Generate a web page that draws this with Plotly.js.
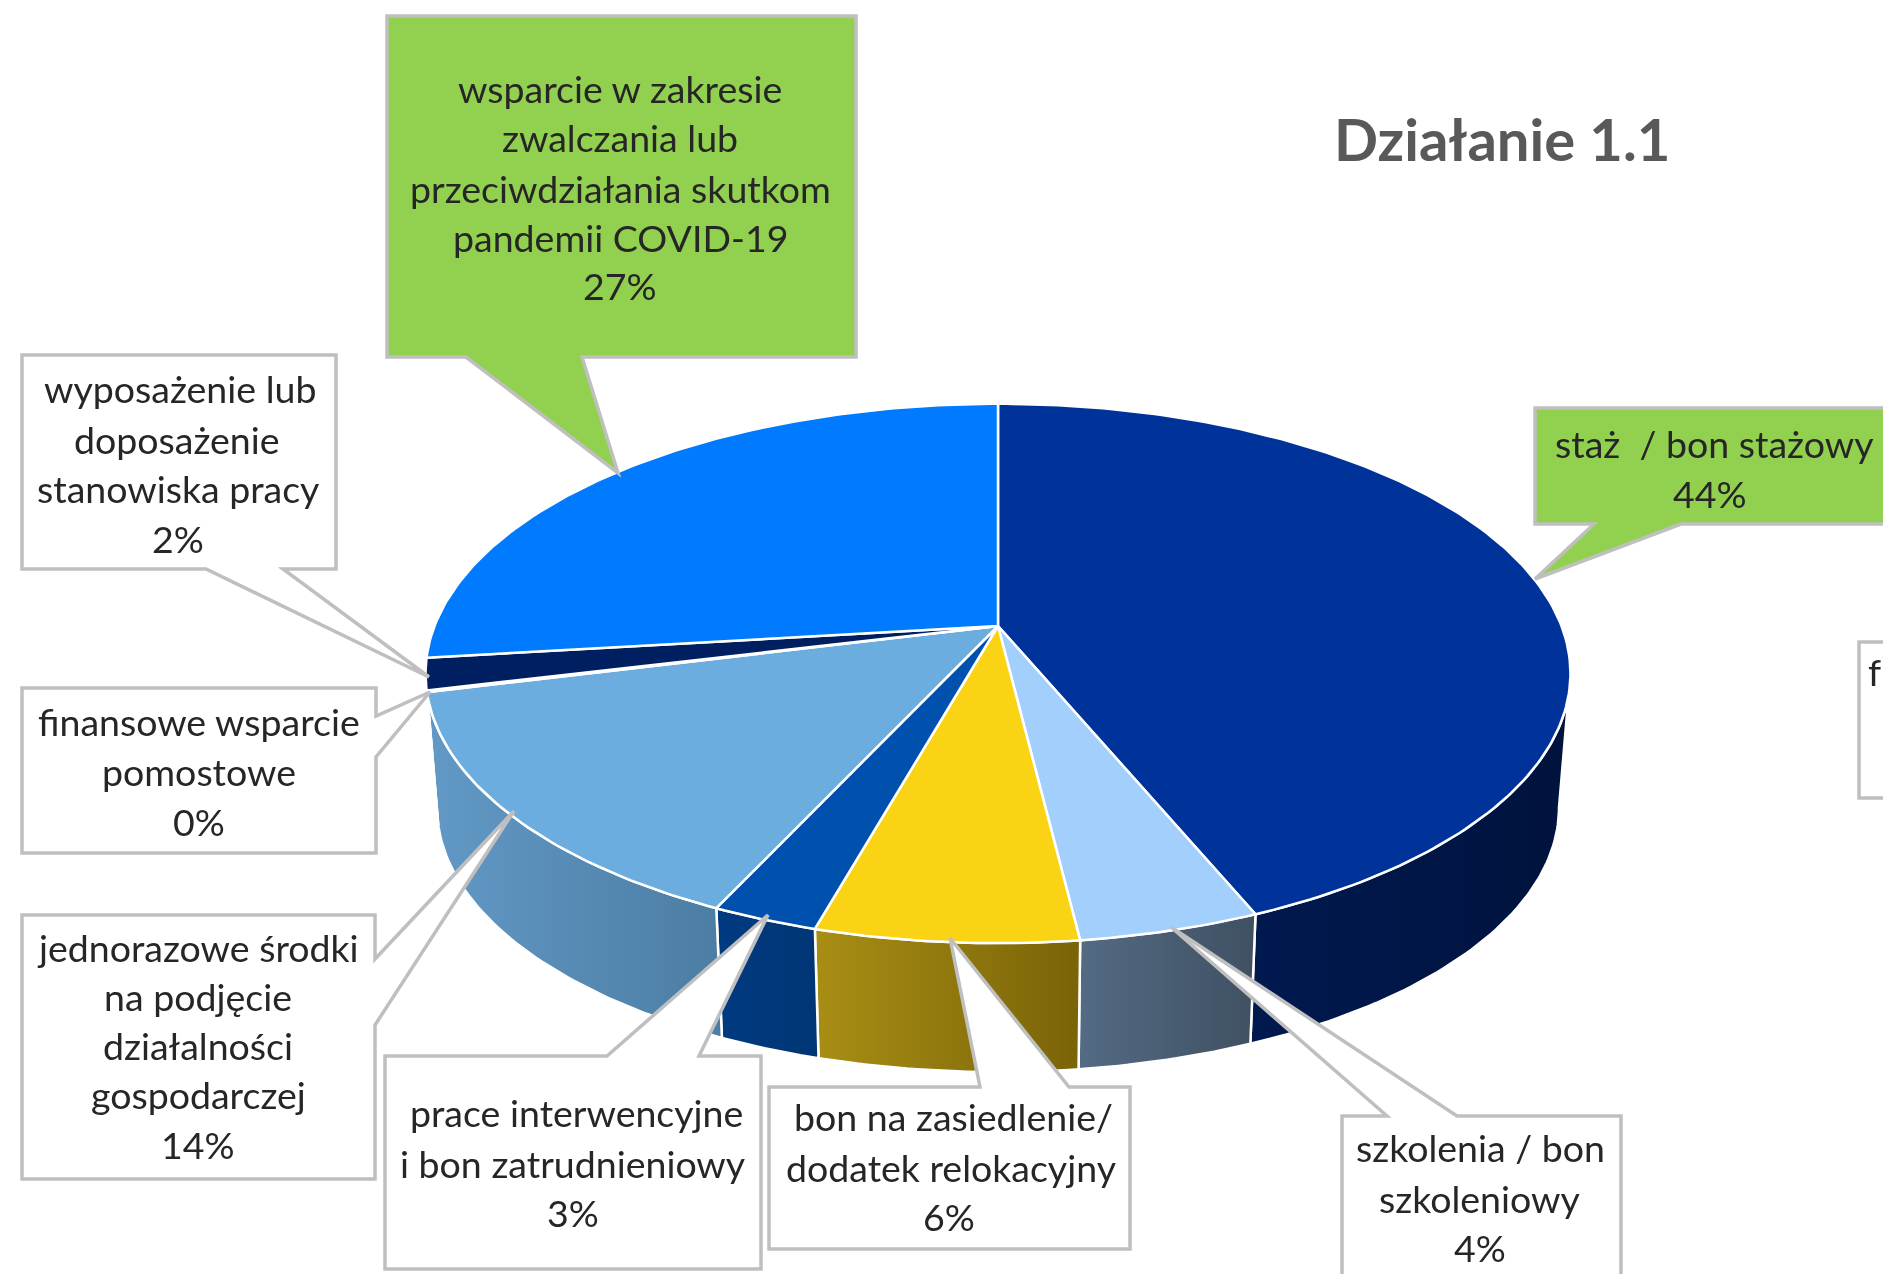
<!DOCTYPE html>
<html lang="pl">
<head>
<meta charset="utf-8">
<script src="https://cdn.plot.ly/plotly-3.0.1.min.js"></script>
<style>html,body{margin:0;padding:0;background:#fff;overflow:hidden}#chart{filter:blur(0.6px)}</style>
</head>
<body>
<div id="chart" style="width:1883px;height:1274px"></div>
<script>
// ---- data, clockwise from 12 o'clock ----
const categories = [
  ["staż  / bon stażowy"],
  ["szkolenia / bon", "szkoleniowy"],
  ["bon na zasiedlenie/", "dodatek relokacyjny"],
  ["prace interwencyjne", "i bon zatrudnieniowy"],
  ["jednorazowe środki", "na podjęcie", "działalności", "gospodarczej"],
  ["finansowe wsparcie", "pomostowe"],
  ["wyposażenie lub", "doposażenie", "stanowiska pracy"],
  ["wsparcie w zakresie", "zwalczania lub", "przeciwdziałania skutkom", "pandemii COVID-19"]
];
const values = [43.75, 4.33, 6.27, 2.55, 14.2, 0.1, 1.9, 26.9];
const chartTitle = "Działanie 1.1";

// ---- styles ----
const topColors = ["#003399", "#A2CFFB", "#FAD314", "#0050AD", "#6BADDF", "#5E94C4", "#001F60", "#007BFF"];
const wallColors = [
  ["#00194F", "#00133D"], ["#546B84", "#3F5062"], ["#A88E14", "#7A6308"], ["#003A80", "#003674"],
  ["#6299C6", "#4C7DA3"], ["#5A8FBF", "#5A8FBF"], ["#001B50", "#001B50"], ["#0062CC", "#0062CC"]
];
const boxFills = ["#92D050", "#FFFFFF", "#FFFFFF", "#FFFFFF", "#FFFFFF", "#FFFFFF", "#FFFFFF", "#92D050"];

// ---- page geometry ----
const view = {w: 1883, h: 1274};
const pie = {cx: 998, cy: 626, a: 563.5, b: 261.3, k: 0.176, wallDrop: 135.3, wallScale: 0.98, wallFrom: 0.278, wallTo: 0.722};
// callout outline points, one per category
const calloutPaths = [
  [[1535,408],[1900,408],[1900,524],[1681,524],[1535,579],[1594,524],[1535,524]],
  [[1342,1116],[1387,1116],[1171,927],[1457,1116],[1621,1116],[1621,1290],[1342,1290]],
  [[769,1087],[980,1087],[950,938],[1069,1087],[1130,1087],[1130,1249],[769,1249]],
  [[385,1056],[607,1056],[768,915],[699,1056],[761,1056],[761,1269],[385,1269]],
  [[22,915],[375,915],[375,959],[514,811],[375,1025],[375,1179],[22,1179]],
  [[22,688],[376,688],[376,716],[430,692],[376,757],[376,853],[22,853]],
  [[22,355],[336,355],[336,569],[283,569],[429,677],[206,569],[22,569]],
  [[387,16],[856,16],[856,357],[582,357],[618,473],[466,357],[387,357]]
];
const partialBox = [[1859,642],[1900,642],[1900,798],[1859,798]];
// text line centres [x,y], one row per category, percent line last
const textCentres = [
  [[1714,443],[1710,493]],
  [[1480,1147],[1479,1198],[1480,1247]],
  [[953,1116],[951,1167],[949,1216]],
  [[576,1112],[573,1163],[573,1212]],
  [[198,947],[198,996],[198,1045],[198,1094],[198,1144]],
  [[199,721],[199,771],[199,821]],
  [[180,388],[177,439],[178,488],[178,538]],
  [[620,88],[620,137],[620,188],[620,237],[620,285]]
];
const textFont = {family: "Lato, 'Open Sans', sans-serif", size: 37.5, color: "#262626"};

// ---- projection of the tilted disc ----
function project(f, level) {
  const t = 2 * Math.PI * f;
  const d = 1 + pie.k * Math.cos(t);
  const s = level ? pie.wallScale : 1;
  return [pie.cx + s * pie.a * Math.sin(t) / d,
          pie.cy + (level ? pie.wallDrop : 0) - s * pie.b * Math.cos(t) / d];
}
function arc(f0, f1, level) {
  const n = Math.max(2, Math.ceil(Math.abs(f1 - f0) * 400));
  const out = [];
  for (let i = 0; i <= n; i++) out.push(project(f0 + (f1 - f0) * i / n, level));
  return out;
}
function polyTrace(points, extra) {
  const p = points.concat([points[0]]);
  return Object.assign({
    type: "scatter", mode: "lines", x: p.map(q => q[0]), y: p.map(q => q[1]),
    fill: "toself", hoverinfo: "skip", showlegend: false,
    line: {color: "#FFFFFF", width: 2.5}
  }, extra);
}

const total = values.reduce((a, b) => a + b, 0);
const traces = [];
let acc = 0;
const spans = values.map(v => { const s = [acc / total, (acc + v) / total]; acc += v; return s; });

// side walls
spans.forEach((s, i) => {
  const f0 = Math.max(s[0], pie.wallFrom), f1 = Math.min(s[1], pie.wallTo);
  if (f1 <= f0) return;
  const pts = arc(f0, f1, 0).concat(arc(f1, f0, 1));
  traces.push(polyTrace(pts, {
    fillcolor: wallColors[i][0],
    fillgradient: {type: "horizontal", colorscale: [[0, wallColors[i][0]], [1, wallColors[i][1]]]}
  }));
});
// top faces
spans.forEach((s, i) => {
  const pts = [[pie.cx, pie.cy]].concat(arc(s[0], s[1], 0));
  traces.push(polyTrace(pts, {fillcolor: topColors[i]}));
});

// callouts
const toPath = pts => "M" + pts.map(p => p[0] + "," + p[1]).join("L") + "Z";
const boxLine = {color: "#BFBFBF", width: 3.5};
const shapes = calloutPaths.map((pts, i) => ({
  type: "path", xref: "x", yref: "y", layer: "above", path: toPath(pts), fillcolor: boxFills[i], line: boxLine
}));
shapes.push({type: "path", xref: "x", yref: "y", layer: "above", path: toPath(partialBox), fillcolor: "#FFFFFF", line: boxLine});

const annotations = [];
categories.forEach((lines, i) => {
  lines.concat([Math.round(values[i]) + "%"]).forEach((txt, j) => {
    annotations.push({
      xref: "x", yref: "y", x: textCentres[i][j][0], y: textCentres[i][j][1], text: txt,
      showarrow: false, xanchor: "center", yanchor: "middle", font: textFont
    });
  });
});
annotations.push({xref: "x", yref: "y", x: 1874, y: 671, text: "f", showarrow: false, xanchor: "center", yanchor: "middle", font: textFont});
annotations.push({xref: "x", yref: "y", x: 1502, y: 138, text: "<b>" + chartTitle + "</b>", showarrow: false,
  xanchor: "center", yanchor: "middle", font: {family: "Lato, 'Open Sans', sans-serif", size: 58, color: "#595959"}});

Plotly.newPlot("chart", traces, {
  width: view.w, height: view.h, margin: {l: 0, r: 0, t: 0, b: 0},
  paper_bgcolor: "#FFFFFF", plot_bgcolor: "#FFFFFF", showlegend: false, hovermode: false,
  xaxis: {range: [0, view.w], visible: false, fixedrange: true},
  yaxis: {range: [view.h, 0], visible: false, fixedrange: true},
  shapes: shapes, annotations: annotations
}, {displayModeBar: false, staticPlot: true});
</script>
</body>
</html>
